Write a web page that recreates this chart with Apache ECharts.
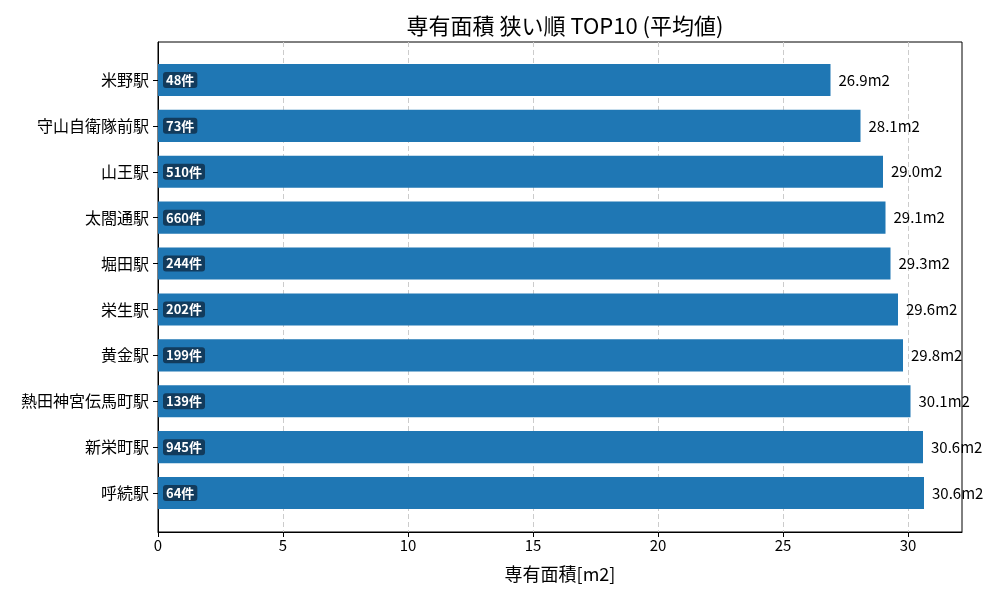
<!DOCTYPE html>
<html>
<head>
<meta charset="utf-8">
<script src="https://cdn.jsdelivr.net/npm/echarts@6/dist/echarts.min.js"></script>
<style>
  html, body { margin: 0; padding: 0; background: #fff; }
  #chart { width: 1000px; height: 600px; }
</style>
</head>
<body>
<div id="chart"></div>
<script>
// 駅名（下から上の順）
var stations = ['呼続駅', '新栄町駅', '熱田神宮伝馬町駅', '黄金駅', '栄生駅', '堀田駅', '太閤通駅', '山王駅', '守山自衛隊前駅', '米野駅'];
var areas = [30.64, 30.6, 30.1, 29.8, 29.6, 29.3, 29.1, 29.0, 28.1, 26.9];  // 平均専有面積
var counts = [64, 945, 139, 199, 202, 244, 660, 510, 73, 48];  // 件数

var FONT = '"Noto Sans CJK JP", "DejaVu Sans", sans-serif';
var XMAX = 32.16;

var chart = echarts.init(document.getElementById('chart'));

var option = {
  animation: false,
  title: {
    text: '専有面積 狭い順 TOP10 (平均値)',
    left: 560,
    textAlign: 'center',
    top: 10,
    textStyle: { fontFamily: FONT, fontSize: 22, fontWeight: 'normal', color: '#000' }
  },
  grid: [
    // 外枠 + x軸
    { left: 158, right: 38, top: 42, bottom: 68,
      show: true, borderColor: '#000', borderWidth: 1, backgroundColor: 'transparent' },
    // 棒グラフ用（上下に余白）
    { left: 158, right: 38, top: 57, bottom: 84 }
  ],
  xAxis: [{
    gridIndex: 0,
    type: 'value',
    min: 0, max: XMAX, interval: 5,
    name: '専有面積[m2]',
    nameLocation: 'middle',
    nameGap: 33,
    nameTextStyle: { fontFamily: FONT, fontSize: 18, color: '#000' },
    axisLine: { show: true, lineStyle: { color: '#000' } },
    axisTick: { show: true, length: 5, lineStyle: { color: '#000' } },
    axisLabel: { fontFamily: FONT, fontSize: 15, color: '#000', margin: 6, showMaxLabel: false },
    splitLine: {
      show: true, showMinLine: false, showMaxLine: false,
      lineStyle: { color: '#cccccc', type: [5, 3], width: 1 }
    }
  }, {
    gridIndex: 1,
    type: 'value',
    min: 0, max: XMAX,
    show: false
  }],
  yAxis: [{
    gridIndex: 0,
    type: 'value',
    min: 0, max: 1,
    axisLine: { show: true, lineStyle: { color: '#000' } },
    axisTick: { show: false },
    axisLabel: { show: false },
    splitLine: { show: false }
  }, {
    gridIndex: 1,
    type: 'category',
    data: stations,
    axisLine: { show: false },
    axisTick: { show: true, alignWithLabel: true, length: 5, lineStyle: { color: '#000' } },
    axisLabel: { fontFamily: FONT, fontSize: 16, color: '#000', margin: 9 },
    splitLine: { show: false }
  }],
  series: [{
    type: 'bar',
    xAxisIndex: 1,
    yAxisIndex: 1,
    data: areas,
    barWidth: '70%',
    itemStyle: { color: '#1f77b4' },
    label: {
      show: true,
      position: 'right',
      distance: 8,
      fontFamily: FONT,
      fontSize: 15,
      color: '#000',
      formatter: function (p) { return p.value.toFixed(1) + 'm2'; }
    }
  }, {
    // 件数ラベル（棒の左端）
    type: 'bar',
    xAxisIndex: 1,
    yAxisIndex: 1,
    data: areas,
    barWidth: '70%',
    barGap: '-100%',
    itemStyle: { color: 'transparent' },
    silent: true,
    z: 12,
    label: {
      show: true,
      position: 'insideLeft',
      distance: 5,
      fontFamily: FONT,
      fontSize: 13,
      fontWeight: 'bold',
      color: '#fff',
      backgroundColor: '#123b5c',
      borderRadius: 3,
      padding: [2, 3, 1, 3],
      formatter: function (p) { return counts[p.dataIndex] + '件'; }
    }
  }]
};

chart.setOption(option);
</script>
</body>
</html>
